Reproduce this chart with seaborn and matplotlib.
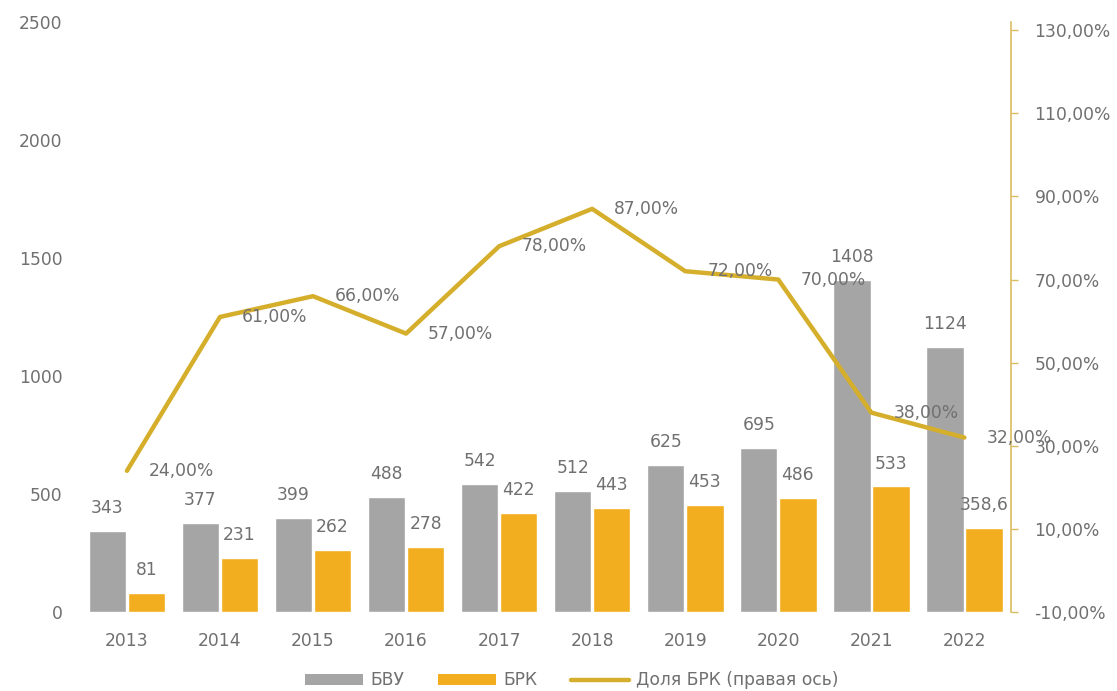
import numpy as np
import pandas as pd
import matplotlib
matplotlib.use("Agg")
import matplotlib.pyplot as plt
import seaborn as sns
from matplotlib.patches import Patch
from matplotlib.lines import Line2D
from matplotlib.ticker import FuncFormatter, FixedLocator

# Data
years = ["2013", "2014", "2015", "2016", "2017", "2018", "2019", "2020", "2021", "2022"]
bvu = [343, 377, 399, 488, 542, 512, 625, 695, 1408, 1124]
brk = [81, 231, 262, 278, 422, 443, 453, 486, 533, 358.6]
brk_share = [24, 61, 66, 57, 78, 87, 72, 70, 38, 32]
series_names = ["БВУ", "БРК"]
share_name = "Доля БРК (правая ось)"
left_ticks = [0, 500, 1000, 1500, 2000, 2500]
right_ticks = [-10, 10, 30, 50, 70, 90, 110, 130]

# Styles
GREY = "#a5a5a5"
GOLD = "#f2ae1f"
LINE = "#d5af2c"
SPINE = "#d9bc62"
TEXT = "#707070"
FS = 12.3

sns.set_theme(style="white")
plt.rcParams["font.family"] = ["DejaVu Sans"]


def num_fmt(v):
    return f"{v:g}".replace(".", ",")


def pct_fmt(v):
    return f"{v:.2f}".replace(".", ",") + "%"


df = pd.DataFrame({
    "year": years * 2,
    "value": bvu + brk,
    "series": [series_names[0]] * len(years) + [series_names[1]] * len(years),
})

fig = plt.figure(figsize=(11.17, 6.91), dpi=100)
ax = fig.add_axes([0.072, 0.114, 0.833, 0.854])

sns.barplot(data=df, x="year", y="value", hue="series", palette=[GREY, GOLD],
            width=0.84, gap=0.04, saturation=1, ax=ax, legend=False)

for container, vals in zip(ax.containers, [bvu, brk]):
    ax.bar_label(container, labels=[num_fmt(v) for v in vals], padding=10,
                 fontsize=FS, color=TEXT)

# Share line on the secondary axis
ax2 = ax.twinx()
xpos = np.arange(len(years))
sns.lineplot(x=xpos, y=brk_share, ax=ax2, color=LINE, linewidth=3.2)
for x, v in zip(xpos, brk_share):
    ax2.annotate(pct_fmt(v), (x, v), xytext=(22, 0), textcoords="offset pixels",
                 ha="left", va="center", fontsize=FS, color=TEXT)

ax.set_ylim(0, 2500)
ax.yaxis.set_major_locator(FixedLocator(left_ticks))
ax.set_xlabel("")
ax.set_ylabel("")
ax.tick_params(axis="y", left=False, right=False, length=0, pad=13,
               labelsize=FS, labelcolor=TEXT)
ax.tick_params(axis="x", bottom=False, length=0, pad=14, labelsize=FS, labelcolor=TEXT)
for s in ax.spines.values():
    s.set_visible(False)

ax2.set_ylim(-10, 131.9)
ax2.yaxis.set_major_locator(FixedLocator(right_ticks))
ax2.yaxis.set_major_formatter(FuncFormatter(lambda v, p: pct_fmt(v)))
ax2.set_ylabel("")
ax2.tick_params(axis="y", left=False, right=True, length=5, width=1, color=SPINE,
                pad=12, labelsize=FS, labelcolor=TEXT)
for name, s in ax2.spines.items():
    s.set_visible(name == "right")
ax2.spines["right"].set_color(SPINE)
ax2.spines["right"].set_linewidth(1.2)
ax.set_xlim(-0.5, len(years) - 0.5)

handles = [
    Patch(facecolor=GREY, edgecolor="none", label=series_names[0]),
    Patch(facecolor=GOLD, edgecolor="none", label=series_names[1]),
    Line2D([0], [0], color=LINE, linewidth=3.2, label=share_name),
]
fig.legend(handles=handles, loc="lower center", bbox_to_anchor=(0.512, -0.02),
           ncol=3, frameon=False, fontsize=FS, labelcolor=TEXT,
           handlelength=3.4, handleheight=0.55, columnspacing=2.0, handletextpad=0.4)

fig.savefig("out.png", dpi=100, facecolor="white")
